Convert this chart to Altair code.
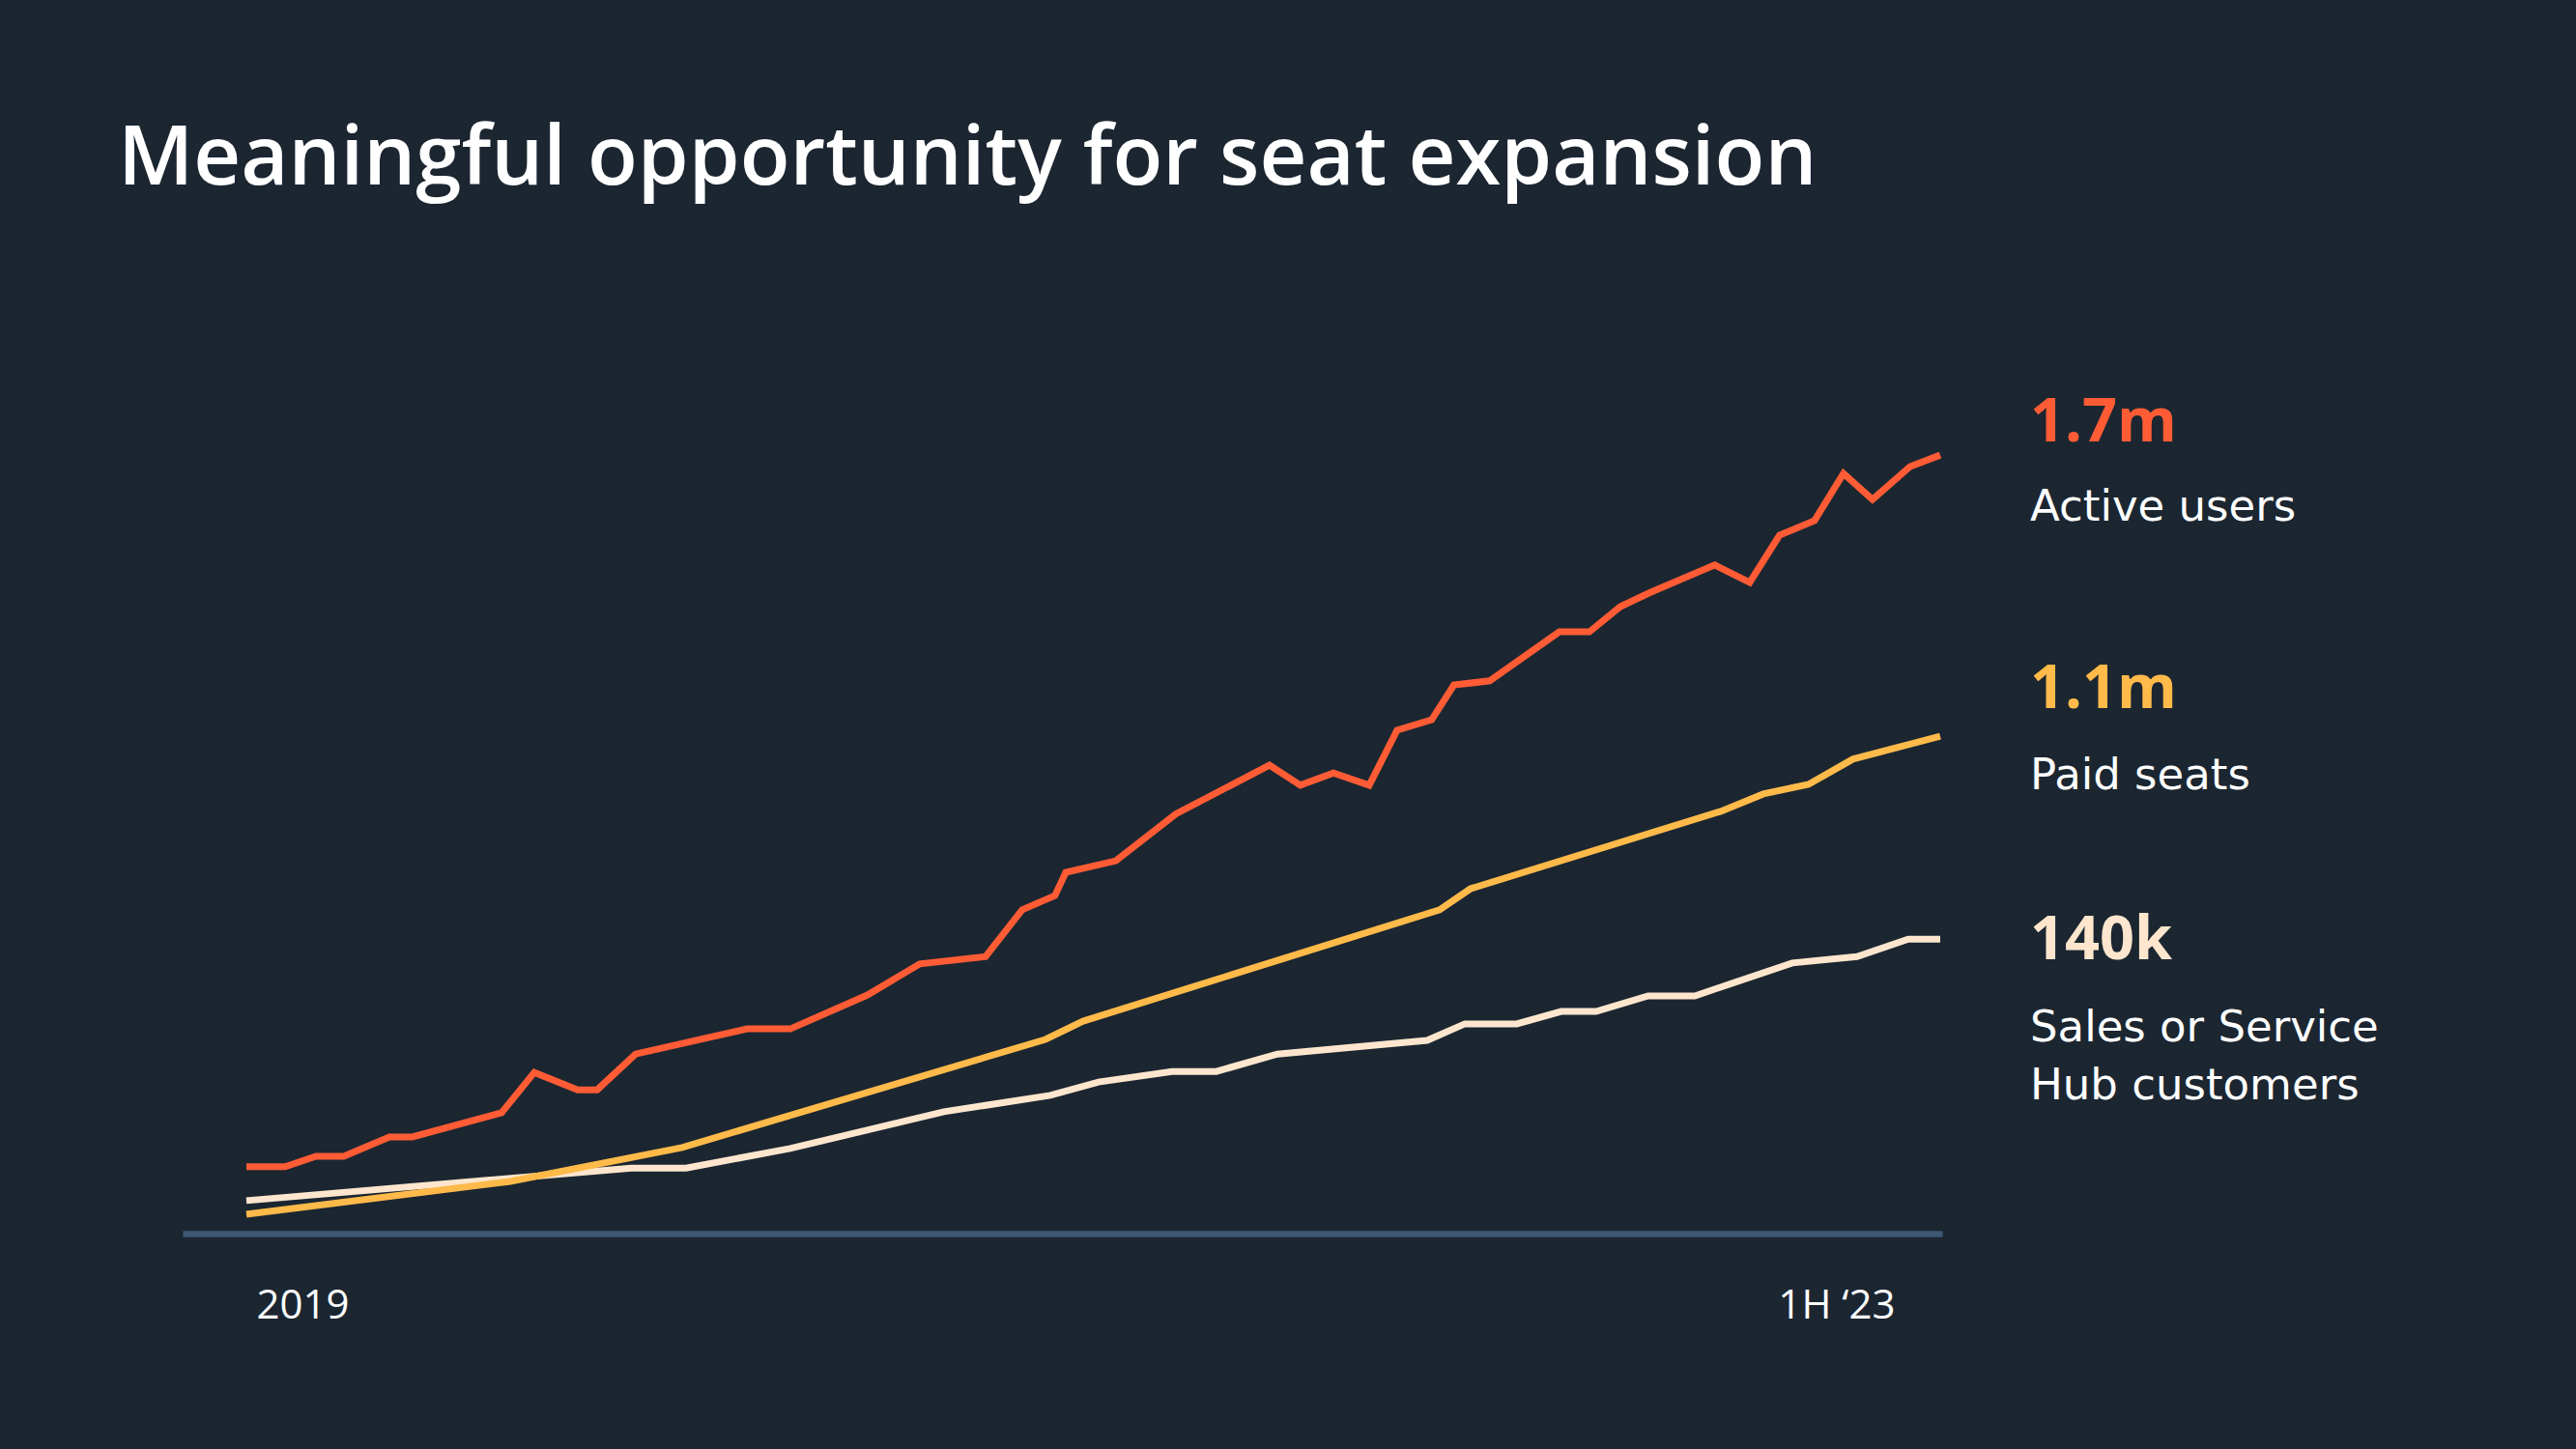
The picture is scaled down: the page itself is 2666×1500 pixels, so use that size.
import altair as alt
import pandas as pd

# ---------------- data ----------------
title_text = "Meaningful opportunity for seat expansion"

series_names = ["Active users", "Paid seats", "Sales or Service Hub customers"]
series_values = ["1.7m", "1.1m", "140k"]
series_colors = ["#FF5C35", "#FFBA4A", "#FDE6CD"]

# x in fractional years, y in plotted units (millions for the two top series)
active_x = [2019.000, 2019.103, 2019.185, 2019.259, 2019.380, 2019.441, 2019.678,
            2019.765, 2019.880, 2019.932, 2020.034, 2020.330, 2020.445, 2020.650,
            2020.789, 2020.964, 2021.061, 2021.148, 2021.177, 2021.310, 2021.469,
            2021.718, 2021.800, 2021.888, 2021.983, 2022.057, 2022.149, 2022.208,
            2022.303, 2022.488, 2022.568, 2022.650, 2022.727, 2022.901, 2022.994,
            2023.073, 2023.166, 2023.243, 2023.320, 2023.420, 2023.500]
active_y = [0.146, 0.146, 0.169, 0.169, 0.211, 0.211, 0.264,
            0.352, 0.314, 0.314, 0.392, 0.447, 0.447, 0.521,
            0.589, 0.605, 0.707, 0.738, 0.789, 0.814, 0.916,
            1.023, 0.979, 1.006, 0.979, 1.099, 1.122, 1.198,
            1.207, 1.314, 1.314, 1.369, 1.399, 1.460, 1.422,
            1.525, 1.557, 1.660, 1.603, 1.675, 1.700]

paid_x = [2019.000, 2019.701, 2020.158, 2021.123, 2021.223, 2022.170, 2022.252,
          2022.917, 2023.030, 2023.150, 2023.268, 2023.500]
paid_y = [0.042, 0.114, 0.188, 0.424, 0.464, 0.707, 0.753,
          0.922, 0.960, 0.981, 1.036, 1.086]

hub_x = [2019.000, 2020.022, 2020.168, 2020.445, 2020.853, 2021.136, 2021.264,
         2021.459, 2021.577, 2021.739, 2022.137, 2022.237, 2022.375, 2022.493,
         2022.586, 2022.724, 2022.848, 2023.107, 2023.279, 2023.415, 2023.500]
hub_y = [0.072, 0.143, 0.143, 0.186, 0.266, 0.302, 0.331,
         0.354, 0.354, 0.392, 0.422, 0.458, 0.458, 0.485,
         0.485, 0.519, 0.519, 0.591, 0.605, 0.643, 0.643]

tick_labels = ["2019", "1H \u201823"]
tick_x = [2019.15, 2023.225]

x_domain = [2018.8306, 2023.5051]
y_domain = [0, 1.85]

# ---------------- tables ----------------
series_xy = [(active_x, active_y), (paid_x, paid_y), (hub_x, hub_y)]
rows = []
for name, (xs, ys) in zip(series_names, series_xy):
    for i, (x, y) in enumerate(zip(xs, ys)):
        rows.append({"series": name, "t": x, "v": y, "i": i})
df = pd.DataFrame(rows)

ends = pd.DataFrame({
    "series": series_names,
    "value": series_values,
    "t": [xs[-1] for xs, _ in series_xy],
    "v": [ys[-1] for _, ys in series_xy],
})
ticks_df = pd.DataFrame({"label": tick_labels, "t": tick_x})

# ---------------- styling ----------------
BG = "#1B2631"
AXIS = "#3E5775"
FONT = "Open Sans"
FONT_LABEL = "DejaVu Sans"
W, H = 1821, 877

x_scale = alt.Scale(domain=x_domain, nice=False, zero=False)
y_scale = alt.Scale(domain=y_domain, nice=False, zero=False)

base_x = alt.X("t:Q", scale=x_scale,
               axis=alt.Axis(domain=True, domainColor=AXIS, domainWidth=6.5,
                             domainCap="butt", ticks=False, labels=False,
                             grid=False, title=None))
base_y = alt.Y("v:Q", scale=y_scale, axis=None)

layers = []
# draw order: bottom series first
for name, col in reversed(list(zip(series_names, series_colors))):
    layers.append(
        alt.Chart(df[df.series == name]).mark_line(
            strokeWidth=7, strokeCap="butt", strokeJoin="miter", color=col
        ).encode(x=base_x, y=base_y, order="i:Q")
    )

ticks_layer = alt.Chart(ticks_df).mark_text(
    align="center", baseline="alphabetic", dy=88, fontSize=42,
    font=FONT, color="#FFFFFF"
).encode(x=alt.X("t:Q", scale=x_scale), y=alt.datum(0), text="label:N")
layers.append(ticks_layer)

# right-hand annotations anchored to line ends
value_dy = [-14, -29, 21]
name_dy = [68, 55, 106]
name_text = ["Active users", "Paid seats", "Sales or Service\nHub customers"]
for k, name in enumerate(series_names):
    row = ends[ends.series == name].copy()
    row["name_text"] = name_text[k]
    layers.append(
        alt.Chart(row).mark_text(
            align="left", baseline="alphabetic", dx=93, dy=value_dy[k],
            fontSize=63, fontWeight=700, font=FONT, color=series_colors[k]
        ).encode(x=alt.X("t:Q", scale=x_scale), y=alt.Y("v:Q", scale=y_scale), text="value:N")
    )
    layers.append(
        alt.Chart(row).mark_text(
            align="left", baseline="alphabetic", dx=93, dy=name_dy[k],
            fontSize=45, fontWeight=400, font=FONT_LABEL, color="#FFFFFF",
            lineBreak="\n", lineHeight=60
        ).encode(x=alt.X("t:Q", scale=x_scale), y=alt.Y("v:Q", scale=y_scale), text="name_text:N")
    )

title_layer = alt.Chart(pd.DataFrame({"title": [title_text]})).mark_text(
    align="left", baseline="alphabetic", fontSize=85, fontWeight=600,
    font=FONT, color="#FFFFFF"
).encode(x=alt.value(-67), y=alt.value(-209), text="title:N")
layers.append(title_layer)

chart = alt.layer(*layers).properties(
    width=W, height=H,
    padding={"left": 189, "top": 400, "right": 656, "bottom": 223},
    autosize=alt.AutoSizeParams(type="none"),
    background=BG,
).configure_view(stroke=None)

chart.save("out.html", embed_options={"renderer": "svg", "actions": False})
